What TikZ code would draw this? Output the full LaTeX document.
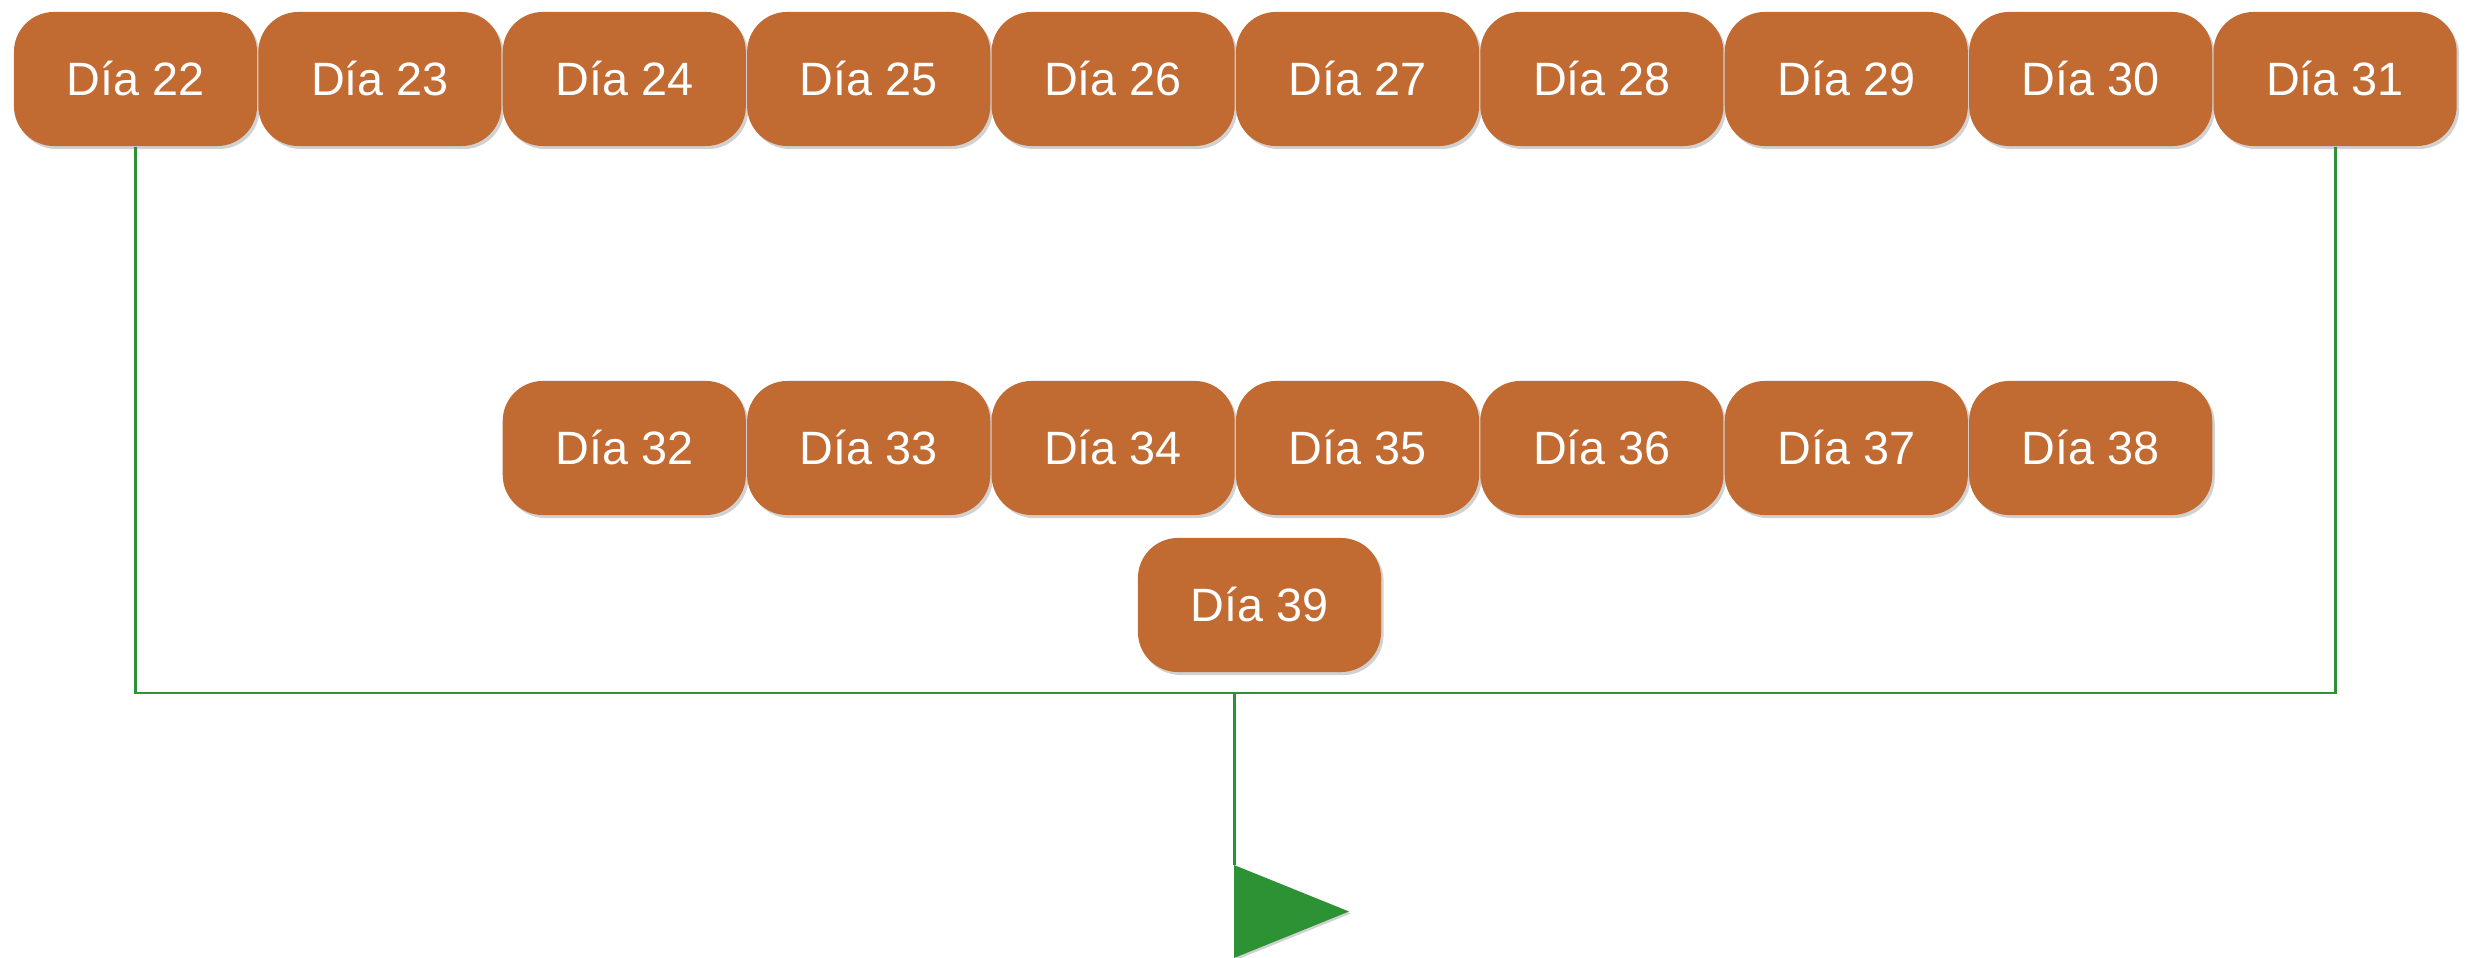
\documentclass[tikz,border=0pt]{standalone}
\usepackage{fontspec}
\setmainfont{Liberation Sans}
\usetikzlibrary{shadows}
\definecolor{ladrillo}{RGB}{193,106,50}
\definecolor{verde}{RGB}{44,146,52}
\begin{document}
\begin{tikzpicture}[x=0.01cm, y=-0.01cm,
  dia/.style={rectangle, rounded corners=0.4cm, fill=ladrillo, text=white, minimum width=2.43cm, minimum height=1.34cm, inner sep=0pt, font=\fontsize{13.3}{16}\selectfont, drop shadow={shadow xshift=0.025cm, shadow yshift=-0.03cm, opacity=0.18, fill=black}},
  flujo/.style={verde, line width=0.85pt}]
\useasboundingbox (0,0) rectangle (2465,958);
\foreach \d [count=\i from 0] in {22,...,31}
  \node[dia] (d\d) at ({135.5+\i*244.4},79) {Día \d};
\foreach \d [count=\i from 2] in {32,...,38}
  \node[dia] (d\d) at ({135.5+\i*244.4},448) {Día \d};
\node[dia] (d39) at (1259.5,605) {Día 39};
\coordinate (junta) at (1234,693);
\coordinate (bandera) at (1234,865);
\draw[flujo] (d22.south) -- (d22.south |- junta) -- (d31.south |- junta) -- (d31.south);
\draw[flujo] (junta) -- (bandera);
\fill[verde, drop shadow={shadow xshift=0.02cm, shadow yshift=-0.02cm, opacity=0.18, fill=black}] (bandera) -- ++(0,93) -- ++(115,-46.5) -- cycle;
\end{tikzpicture}
\end{document}
